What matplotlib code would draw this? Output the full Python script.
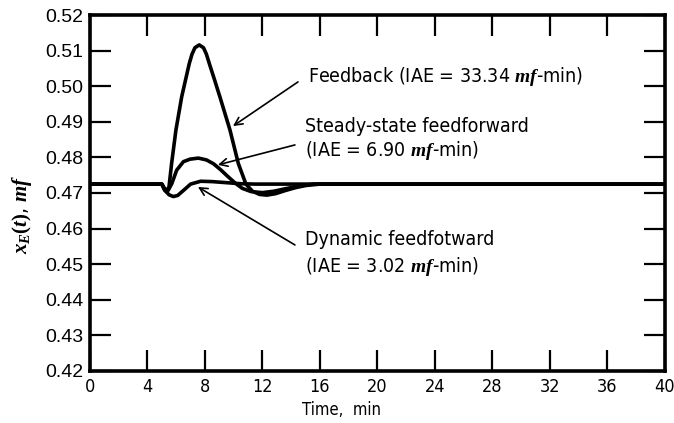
import matplotlib
matplotlib.use('Agg')
import matplotlib.pyplot as plt
import numpy as np

plt.rcParams['font.family'] = ['DejaVu Sans']
plt.rcParams['font.stretch'] = 'condensed'
plt.rcParams['mathtext.fontset'] = 'custom'
plt.rcParams['mathtext.it'] = 'Liberation Serif:italic:bold'
plt.rcParams['mathtext.rm'] = 'Liberation Serif:bold'

# feedback response
t_fb = [0, 5.0, 5.2, 5.35, 5.5, 5.68, 5.98, 6.38, 6.91, 7.1, 7.3, 7.6, 7.9, 8.1, 8.30, 8.65,
        9.04, 9.74, 10.32, 10.85, 11.3, 11.8, 12.3, 12.9, 13.6, 14.3, 15.0, 16.0, 40]
x_fb = [.4725, .4725, .4708, .4703, .4718, .4783, .4877, .4970, .5064, .5090, .5108, .5116,
        .5108, .5090, .5064, .5020, .4970, .4877, .4783, .4725, .4705, .4696, .4694, .4698,
        .4707, .4715, .4721, .4725, .4725]

# steady-state feedforward
t_ss = [0, 5.0, 5.2, 5.45, 5.7, 6.03, 6.5, 6.96, 7.54, 8.1, 8.6, 9.1, 9.6, 10.1, 10.6,
        11.2, 12.0, 12.8, 13.6, 14.5, 15.5, 40]
x_ss = [.4725, .4725, .4712, .4708, .4727, .4764, .4788, .4795, .4798, .4793, .4782, .4765,
        .4746, .4728, .4713, .4704, .4701, .4705, .4712, .4719, .4725, .4725]

# dynamic feedforward
t_dyn = [0, 5.0, 5.2, 5.5, 5.8, 6.1, 6.5, 7.0, 7.7, 8.5, 9.5, 10.5, 11.5, 12.5, 40]
x_dyn = [.4725, .4725, .4708, .4695, .4690, .4693, .4707, .4725, .4733, .4732, .4729,
         .4726, .4725, .4725, .4725]

xticks = [0, 4, 8, 12, 16, 20, 24, 28, 32, 36, 40]
yticks = [0.42, 0.43, 0.44, 0.45, 0.46, 0.47, 0.48, 0.49, 0.50, 0.51, 0.52]

fig = plt.figure(figsize=(6.74, 4.23), dpi=100)
ax = fig.add_axes([0.1335, 0.123, 0.853, 0.8415])

for t, x in ((t_fb, x_fb), (t_ss, x_ss), (t_dyn, x_dyn)):
    ax.plot(t, x, color='black', lw=2.6, solid_joinstyle='round', solid_capstyle='butt')

ax.set_xlim(0, 40)
ax.set_ylim(0.42, 0.52)
ax.set_xticks(xticks)
ax.set_yticks(yticks)
ax.set_xticklabels([str(v) for v in xticks], fontsize=13)
ax.set_yticklabels(['%.2f' % v for v in yticks], fontsize=14, family='Liberation Sans',
                   stretch='normal')
ax.tick_params(axis='both', which='major', direction='in', top=True, right=True,
               length=15, width=1.6, color='black', pad=5)
for s in ax.spines.values():
    s.set_linewidth(2.6)

ax.set_xlabel('Time,  min', fontsize=12, va='center')
ax.xaxis.set_label_coords(0.438, -0.11)
ax.set_ylabel(r'$x_E(t)$, $mf$', fontsize=15, va='center')
ax.yaxis.set_label_coords(-0.118, 0.44)

arrow = dict(arrowstyle='->', color='black', lw=1.2, shrinkA=0, shrinkB=0, mutation_scale=14)
ax.annotate('', xy=(9.95, 0.4888), xytext=(14.47, 0.5012), arrowprops=arrow)
ax.annotate('', xy=(8.9, 0.4779), xytext=(14.26, 0.4835), arrowprops=arrow)
ax.annotate('', xy=(7.51, 0.4717), xytext=(14.26, 0.4554), arrowprops=arrow)

kw = dict(fontsize=14, ha='left', va='center')
ax.text(15.17, 0.5027, 'Feedback (IAE = 33.34 $mf$-min)', **kw)
ax.text(14.96, 0.4886, 'Steady-state feedforward', **kw)
ax.text(14.96, 0.4818, '(IAE = 6.90 $mf$-min)', **kw)
ax.text(14.96, 0.4568, 'Dynamic feedfotward', **kw)
ax.text(14.96, 0.4493, '(IAE = 3.02 $mf$-min)', **kw)

fig.savefig('out.png', dpi=100)
